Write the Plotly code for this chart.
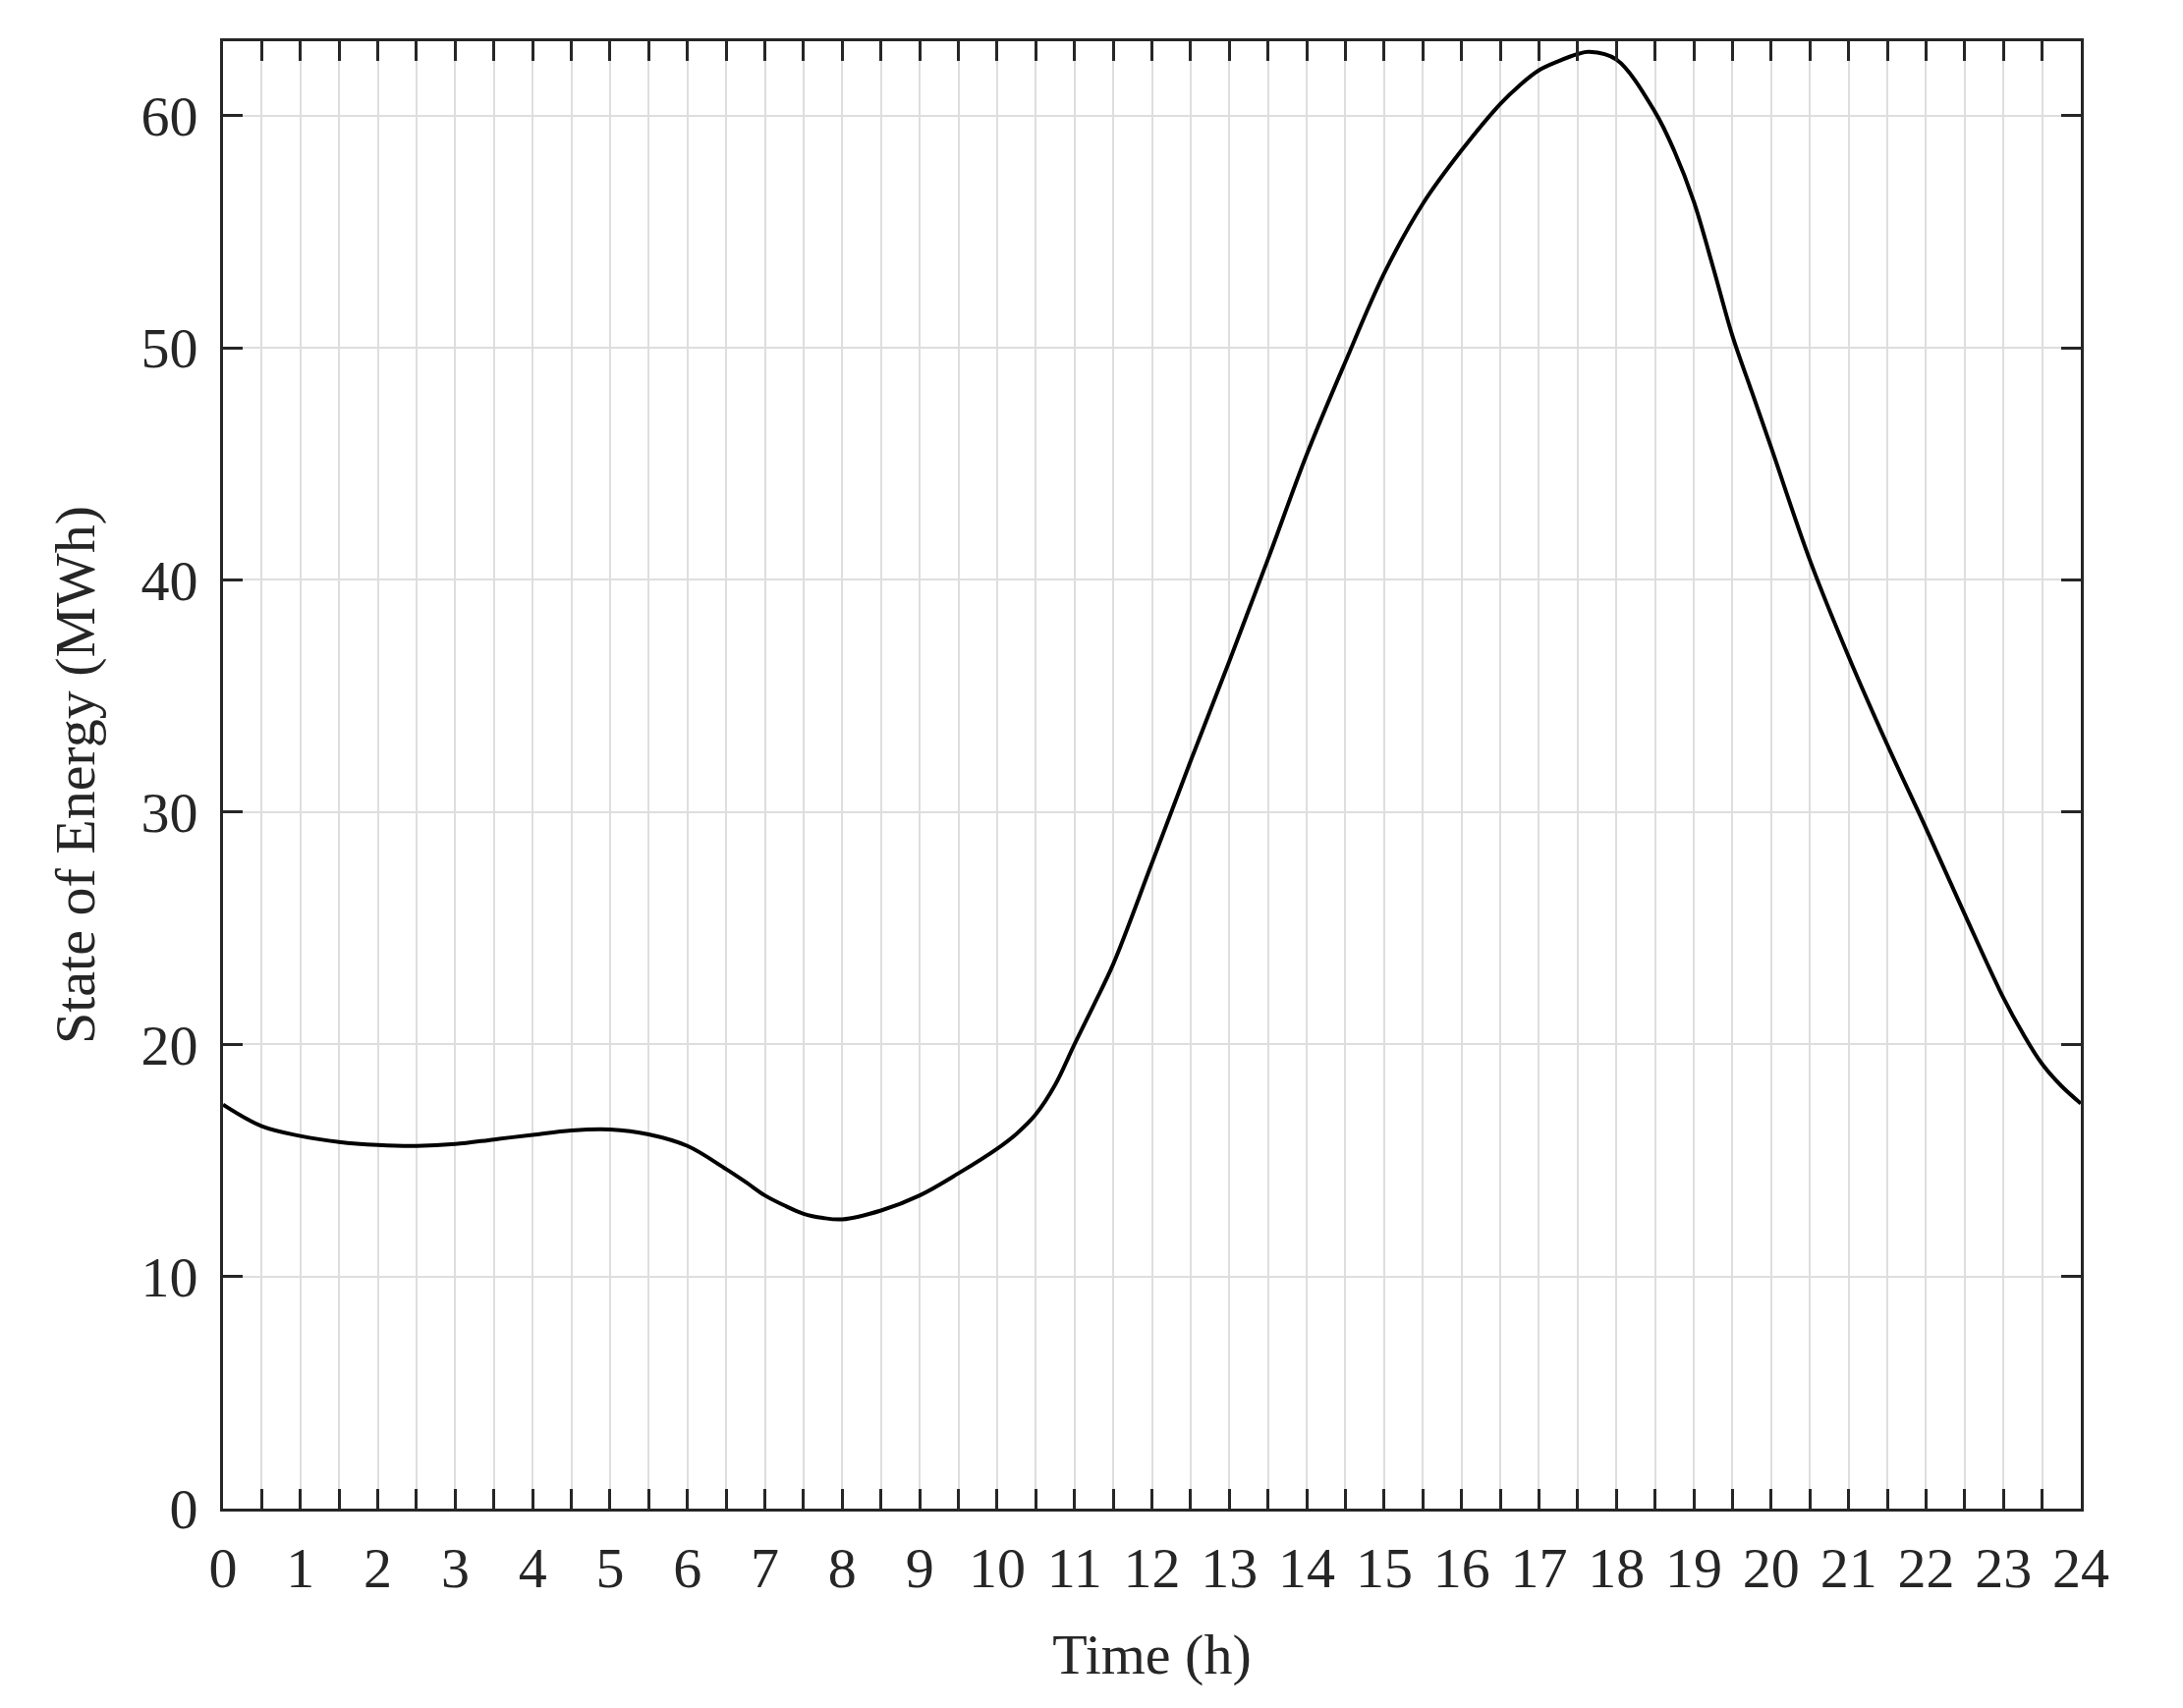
import plotly.graph_objects as go

hours = [0, 0.5, 1, 1.5, 2, 2.5, 3, 3.5, 4, 4.5, 5, 5.5, 6, 6.5, 6.75, 7, 7.25,
         7.5, 7.75, 8, 8.5, 9, 9.5, 10, 10.25, 10.5, 10.75, 11, 11.25, 11.5, 12,
         12.5, 13, 13.5, 14, 14.5, 15, 15.5, 16, 16.5, 16.75, 17, 17.25, 17.5,
         17.65, 18, 18.5, 18.75, 19, 19.25, 19.5, 19.75, 20, 20.5, 21, 21.5, 22,
         22.5, 23, 23.25, 23.5, 23.75, 24]
soe_mwh = [17.40, 16.47, 16.05, 15.79, 15.66, 15.62, 15.70, 15.90, 16.10, 16.29,
           16.33, 16.12, 15.62, 14.62, 14.07, 13.49, 13.06, 12.70, 12.52, 12.46,
           12.84, 13.49, 14.44, 15.50, 16.14, 16.98, 18.25, 20.0, 21.7, 23.45,
           27.8, 32.2, 36.5, 40.9, 45.4, 49.4, 53.2, 56.2, 58.5, 60.5, 61.3,
           61.95, 62.34, 62.65, 62.74, 62.41, 60.15, 58.46, 56.3, 53.46, 50.5,
           48.1, 45.7, 40.85, 36.7, 32.9, 29.3, 25.6, 22.0, 20.47, 19.15, 18.2,
           17.45]

x_ticks = list(range(0, 25))
y_ticks = [0, 10, 20, 30, 40, 50, 60]

FONT = "Liberation Serif"
AX = "#262626"
GRID = "#dedede"

fig = go.Figure()
fig.add_trace(go.Scatter(
    x=hours, y=soe_mwh, mode="lines",
    line=dict(color="black", width=4, shape="spline", smoothing=1.0),
    showlegend=False,
))

fig.update_layout(
    width=2222, height=1739,
    margin=dict(l=227, r=104, t=42, b=203, autoexpand=False),
    paper_bgcolor="white", plot_bgcolor="white",
    font=dict(family=FONT, size=58, color=AX),
)
fig.update_xaxes(
    range=[0, 24], tickvals=x_ticks, ticktext=[str(v) for v in x_ticks],
    ticks="inside", ticklen=20, tickwidth=3, tickcolor=AX,
    showline=True, linewidth=3, linecolor=AX, mirror="ticks",
    showgrid=True, gridcolor=GRID, gridwidth=2, zeroline=False,
    minor=dict(dtick=0.5, tick0=0, ticks="inside", ticklen=20, tickwidth=3,
               tickcolor=AX, showgrid=True, gridcolor=GRID, gridwidth=2),
    ticklabelstandoff=7, automargin=False,
    title=dict(text="Time (h)", font=dict(family=FONT, size=58, color=AX), standoff=36),
)
fig.update_yaxes(
    range=[0, 63.2], tickvals=y_ticks,
    ticks="inside", ticklen=20, tickwidth=3, tickcolor=AX,
    showline=True, linewidth=3, linecolor=AX, mirror="ticks",
    showgrid=True, gridcolor=GRID, gridwidth=2, zeroline=False,
    ticklabelstandoff=11, automargin=False,
    title=dict(text="State of Energy (MWh)", font=dict(family=FONT, size=58, color=AX), standoff=29),
)

fig.write_html("out.html", config={"displayModeBar": False},
               post_script="document.body.style.margin='0';")
